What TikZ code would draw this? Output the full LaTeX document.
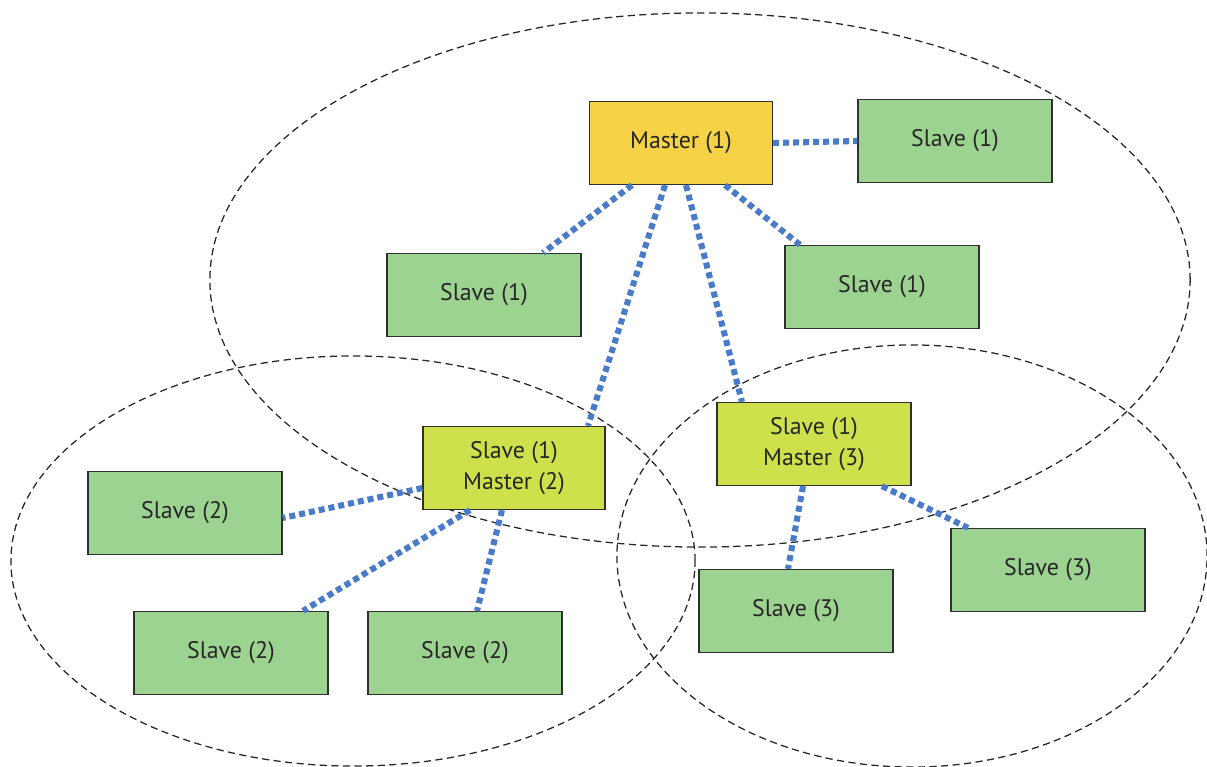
\documentclass[tikz,border=0pt]{standalone}
\usepackage{fontspec}
\setmainfont{PT Sans}
\usepackage{tikz}
\usetikzlibrary{positioning, calc}
\definecolor{masterfill}{HTML}{F6D247}
\definecolor{slavefill}{HTML}{9DD391}
\definecolor{bothfill}{HTML}{CEE04B}
\definecolor{linkblue}{HTML}{4A7BC9}
\definecolor{edgegray}{HTML}{303030}

\begin{document}
\begin{tikzpicture}[x=0.025cm, y=-0.025cm,
    box/.style={draw=edgegray, line width=0.9pt, minimum width=4.85cm, minimum height=2.075cm,
      align=center, inner sep=0pt, text=black!85, font={\fontsize{17}{22}\selectfont}},
    masterbox/.style={box, fill=masterfill, minimum width=4.575cm},
    slavebox/.style={box, fill=slavefill},
    bothbox/.style={box, fill=bothfill},
    link/.style={linkblue, line width=4.3pt, dash pattern=on 0.15cm off 0.1cm},
    zone/.style={dashed, line width=0.9pt, black!85, dash pattern=on 0.18cm off 0.11cm}]

    \useasboundingbox (0,0) rectangle (1207,767);

    % zones
    \draw[zone] (700,280) ellipse [x radius=12.25cm, y radius=6.675cm];
    \draw[zone] (353,561) ellipse [x radius=8.55cm, y radius=5.125cm];
    \draw[zone] (912,556) ellipse [x radius=7.375cm, y radius=5.275cm];

    % first piconet
    \node[masterbox] (m1) at (681,143) {Master (1)};
    \node[slavebox] (s1a) at (955,141) {Slave (1)};
    \node[slavebox] (s1b) at (484,295) {Slave (1)};
    \node[slavebox] (s1c) at (882,287) {Slave (1)};

    % bridges
    \node[bothbox, minimum width=4.55cm] (m2) at (514,468) {Slave (1)\\Master (2)};
    \node[bothbox] (m3) at (814,444) {Slave (1)\\Master (3)};

    % second piconet
    \node[slavebox] (s2a) at (185,513) {Slave (2)};
    \node[slavebox] (s2b) at (231,653) {Slave (2)};
    \node[slavebox] (s2c) at (465,653) {Slave (2)};

    % third piconet
    \node[slavebox] (s3a) at (796,611) {Slave (3)};
    \node[slavebox] (s3b) at (1048,570) {Slave (3)};

    % links
    \draw[link] (m1.east) -- (s1a.west);
    \draw[link] ($(m1.south)+(-49,0)$) -- ($(s1b.north)+(59,0)$);
    \draw[link] ($(m1.south)+(44,0)$) -- ($(s1c.north)+(-82,0)$);
    \draw[link] ($(m1.south)+(-16,0)$) -- ($(m2.north)+(74,0)$);
    \draw[link] ($(m1.south)+(5,0)$) -- ($(m3.north)+(-72,0)$);

    \draw[link] ($(m2.west)+(0,20)$) -- ($(s2a.east)+(0,5)$);
    \draw[link] ($(m2.south)+(-44,0)$) -- ($(s2b.north)+(72,0)$);
    \draw[link] ($(m2.south)+(-12,0)$) -- ($(s2c.north)+(12,0)$);

    \draw[link] ($(m3.south)+(-11,0)$) -- ($(s3a.north)+(-8,0)$);
    \draw[link] ($(m3.south)+(68,0)$) -- ($(s3b.north)+(-80,0)$);
\end{tikzpicture}
\end{document}
